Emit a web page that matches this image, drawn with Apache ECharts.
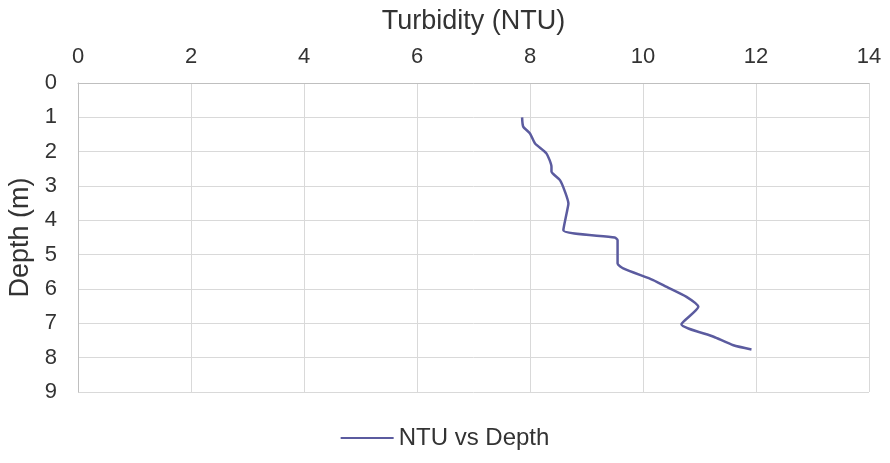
<!DOCTYPE html>
<html>
<head>
<meta charset="utf-8">
<script src="https://cdn.jsdelivr.net/npm/echarts@6/dist/echarts.min.js"></script>
<style>
  html, body { margin: 0; padding: 0; background: #fff; }
  #chart { width: 890px; height: 463px; }
</style>
</head>
<body>
<div id="chart"></div>
<script>
// turbidity readings (NTU) and matching depths (m)
const ntu = [7.86, 7.88, 8.0, 8.09, 8.29, 8.38, 8.38, 8.53, 8.62, 8.68, 8.66, 8.59,
  9.50, 9.55, 9.55, 9.65, 10.18, 10.42, 10.77, 10.98, 10.68, 11.25, 11.60, 11.92]
const depth = [1.0, 1.27, 1.47, 1.76, 2.05, 2.44, 2.58, 2.83, 3.17, 3.51, 3.7, 4.29,
  4.5, 4.58, 5.26, 5.4, 5.74, 5.94, 6.23, 6.52, 7.03, 7.39, 7.64, 7.76]
const xTicks = [0, 2, 4, 6, 8, 10, 12, 14]
const yTicks = [0, 1, 2, 3, 4, 5, 6, 7, 8, 9]

const FONT = 'Liberation Sans'
const TXT = '#333333'
const GRID = '#d9d9d9'

const chart = echarts.init(document.getElementById('chart'))

const option = {
  animation: false,
  textStyle: { fontFamily: FONT },
  grid: { left: 78, right: 21, top: 83, bottom: 71, outerBoundsMode: 'none' },
  legend: {
    bottom: 8,
    left: 'center',
    itemWidth: 53,
    itemHeight: 12,
    itemGap: 3,
    textStyle: { fontSize: 24, color: TXT, fontFamily: FONT },
    data: [{ name: 'NTU vs Depth', icon: 'path://M0,5 L53,5 L53,7 L0,7 Z' }]
  },
  xAxis: {
    type: 'value',
    position: 'top',
    min: xTicks[0],
    max: xTicks[xTicks.length - 1],
    interval: 2,
    name: 'Turbidity (NTU)',
    nameLocation: 'middle',
    nameGap: 48,
    nameTextStyle: { fontSize: 27, color: TXT, fontFamily: FONT },
    axisLine: { show: true, lineStyle: { color: '#bfbfbf', width: 1 } },
    axisTick: { show: false },
    axisLabel: { fontSize: 22, color: TXT, margin: 15, fontFamily: FONT },
    splitLine: { show: true, lineStyle: { color: GRID, width: 1 } }
  },
  yAxis: {
    type: 'value',
    inverse: true,
    min: yTicks[0],
    max: yTicks[yTicks.length - 1],
    interval: 1,
    name: 'Depth (m)',
    nameLocation: 'middle',
    nameGap: 43,
    nameRotate: 90,
    nameTextStyle: { fontSize: 27, color: TXT, fontFamily: FONT },
    axisLine: { show: true, lineStyle: { color: '#bfbfbf', width: 1 } },
    axisTick: { show: false },
    axisLabel: { fontSize: 22, color: TXT, margin: 21, fontFamily: FONT },
    splitLine: { show: true, lineStyle: { color: GRID, width: 1 } }
  },
  series: [{
    name: 'NTU vs Depth',
    type: 'line',
    data: ntu.map((v, i) => [v, depth[i]]),
    showSymbol: false,
    smooth: 0.2,
    lineStyle: { color: '#5b5b9f', width: 2.5 },
    itemStyle: { color: '#5b5b9f' }
  }]
}

chart.setOption(option)
</script>
</body>
</html>
